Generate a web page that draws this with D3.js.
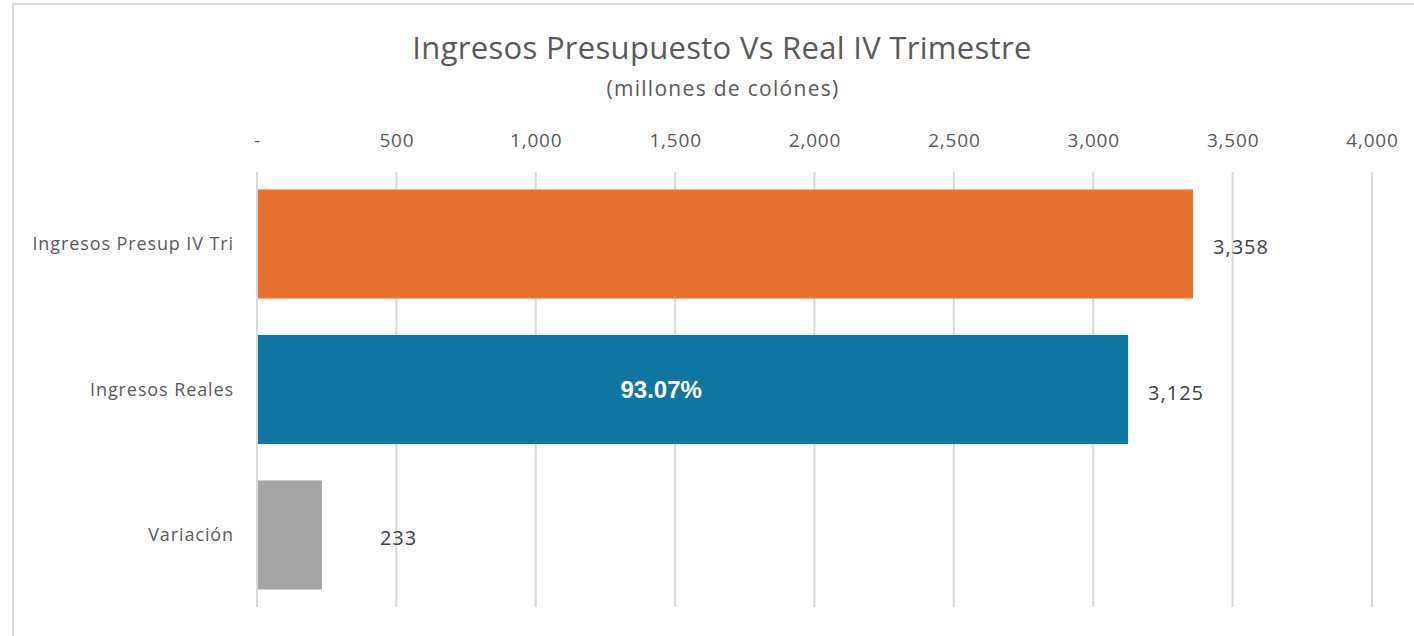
<!DOCTYPE html>
<html>
<head>
<meta charset="utf-8">
<script src="https://cdn.jsdelivr.net/npm/d3@7"></script>
<style>
  body { margin: 0; background: #fff; }
  text { font-family: "Open Sans", sans-serif; }
</style>
</head>
<body>
<svg id="chart"></svg>
<script>
// Chart data
const categories = ['Ingresos Presup IV Tri', 'Ingresos Reales', 'Variación'];
const values = [3358, 3125, 233];
const barColors = ['#E97132', '#0E76A0', '#A5A5A5'];
const tickValues = [0, 500, 1000, 1500, 2000, 2500, 3000, 3500, 4000];
const percentLabel = '93.07%';

// Set standards
const width = 1414;
const height = 636;
const margin = {top: 172, right: 42, bottom: 29, left: 257};

const svg = d3.select('#chart')
    .attr('width', width)
    .attr('height', height);

// Outer frame
svg.append('rect')
    .attr('x', 13).attr('y', 4)
    .attr('width', width + 20).attr('height', height + 20)
    .attr('fill', 'none')
    .attr('stroke', '#d9d9d9')
    .attr('stroke-width', 2);

const x = d3.scaleLinear()
    .domain([0, 4000])
    .range([margin.left, width - margin.right]);

const y = d3.scaleBand()
    .domain(categories)
    .range([margin.top, height - margin.bottom])
    .paddingInner(0.25)
    .paddingOuter(0.12);

// Title
svg.append('text')
    .attr('x', 722).attr('y', 59)
    .attr('text-anchor', 'middle')
    .attr('font-size', 31)
    .attr('letter-spacing', 0.3)
    .attr('fill', '#595959')
    .text('Ingresos Presupuesto Vs Real IV Trimestre');

svg.append('text')
    .attr('x', 723).attr('y', 96)
    .attr('text-anchor', 'middle')
    .attr('font-size', 21)
    .attr('letter-spacing', 1.3)
    .attr('fill', '#595959')
    .text('(millones de colónes)');

// Gridlines
svg.append('g')
    .selectAll('line')
    .data(tickValues)
    .join('line')
    .attr('x1', d => x(d)).attr('x2', d => x(d))
    .attr('y1', margin.top).attr('y2', height - margin.bottom)
    .attr('stroke', '#d9d9d9')
    .attr('stroke-width', 2);

// Top axis labels
const axis = svg.append('g')
    .attr('transform', `translate(0, 147)`)
    .call(d3.axisTop(x)
        .tickValues(tickValues)
        .tickSize(0)
        .tickPadding(0)
        .tickFormat(d => d === 0 ? '-' : d3.format(',')(d)));
axis.select('.domain').remove();
axis.selectAll('text')
    .attr('font-size', 19)
    .attr('letter-spacing', 0.8)
    .attr('fill', '#595959');

// Bars
svg.append('g')
    .selectAll('rect')
    .data(values)
    .join('rect')
    .attr('x', x(0) + 1)
    .attr('y', (d, i) => y(categories[i]))
    .attr('width', d => x(d) - x(0) - 1)
    .attr('height', y.bandwidth())
    .attr('fill', (d, i) => barColors[i]);

// Category labels
svg.append('g')
    .selectAll('text')
    .data(categories)
    .join('text')
    .attr('x', x(0) - 23)
    .attr('y', d => y(d) + y.bandwidth() / 2)
    .attr('dy', '0.35em')
    .attr('text-anchor', 'end')
    .attr('font-size', 18)
    .attr('letter-spacing', 0.9)
    .attr('fill', '#595959')
    .text(d => d);

// Value labels (Variación label was moved right in the original)
svg.append('g')
    .selectAll('text')
    .data(values)
    .join('text')
    .attr('x', (d, i) => x(d) + (i === 2 ? 58 : 20))
    .attr('y', (d, i) => y(categories[i]) + y.bandwidth() / 2 + 3)
    .attr('dy', '0.35em')
    .attr('font-size', 20)
    .attr('letter-spacing', 1)
    .attr('fill', '#404040')
    .text(d => d3.format(',')(d));

// Percentage inside the blue bar
svg.append('text')
    .attr('x', x(1450))
    .attr('y', y(categories[1]) + y.bandwidth() / 2)
    .attr('dy', '0.35em')
    .attr('text-anchor', 'middle')
    .style('font-family', '"Liberation Sans", Arial, sans-serif')
    .attr('font-weight', 'bold')
    .attr('font-size', 24)
    .attr('fill', '#ffffff')
    .text(percentLabel);
</script>
</body>
</html>
